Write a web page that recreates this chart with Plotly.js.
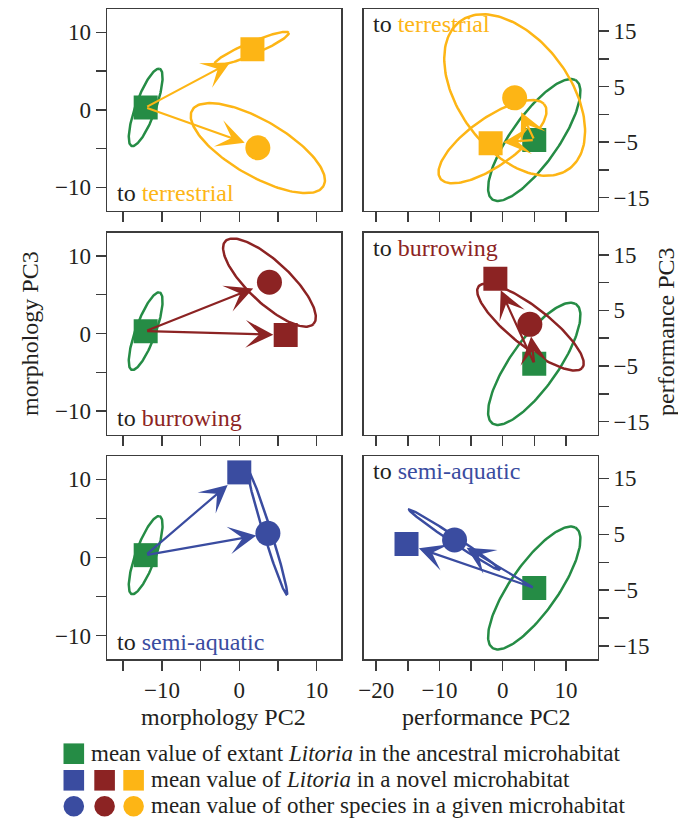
<!DOCTYPE html>
<html><head><meta charset="utf-8">
<script src="https://cdn.plot.ly/plotly-3.0.1.min.js"></script>
<style>html,body{margin:0;padding:0;background:#fff}#plot{width:678px;height:818px}</style>
</head><body><div id="plot"></div>
<script>
// ---------------- data ----------------
const habitats = ['terrestrial', 'burrowing', 'semi-aquatic'];
const habitatColors = ['#FDB515', '#8C2323', '#3A4CA0'];
const ancestralColor = '#258C45';

// morphology space (PC2, PC3)
const morphAncestralPC2 = -12.1;
const morphAncestralPC3 = 0.3;
const morphAncestralEll = [5.3, 1.3, 70];           // semi-axis a, semi-axis b, angle (deg)
const morphNovelPC2 = [1.7, 6.0, 0.0];
const morphNovelPC3 = [7.8, -0.2, 10.9];
const morphOtherPC2 = [2.4, 3.9, 3.7];
const morphOtherPC3 = [-4.9, 6.6, 3.1];
const morphNovelEllCX = [1.6, null, null];
const morphNovelEllCY = [7.9, null, null];
const morphNovelEllA = [5.2, null, null];
const morphNovelEllB = [0.8, null, null];
const morphNovelEllAng = [23, null, null];
const morphOtherEllCX = [2.4, 3.9, 3.65];
const morphOtherEllCY = [-4.95, 6.55, 3.15];
const morphOtherEllA = [9.8, 7.8, 8.3];
const morphOtherEllB = [3.6, 2.7, 0.5];
const morphOtherEllAng = [-30, -43, -72.5];
const morphArrowNovelPC2 = [-1.2, 4.4, -1.5];
const morphArrowNovelPC3 = [6.1, -0.15, 9.3];
const morphArrowOtherPC2 = [0.7, 1.8, 2.2];
const morphArrowOtherPC3 = [-4.25, 5.8, 2.8];

// performance space (PC2, PC3)
const perfAncestralPC2 = 5.0;
const perfAncestralPC3 = -4.6;
const perfAncestralEll = [12.6, 3.9, 59];
const perfNovelPC2 = [-1.9, -1.15, -15.2];
const perfNovelPC3 = [-5.2, 10.7, 3.25];
const perfOtherPC2 = [1.9, 4.3, -7.6];
const perfOtherPC3 = [3.0, 2.5, 4.0];
const perfNovelEllCX = [-1.6, null, null];
const perfNovelEllCY = [-4.9, null, null];
const perfNovelEllA = [10.6, null, null];
const perfNovelEllB = [4.1, null, null];
const perfNovelEllAng = [40, null, null];
const perfOtherEllCX = [1.9, 4.4, -7.6];
const perfOtherEllCY = [3.5, 2.0, 4.0];
const perfOtherEllA = [15.9, 11.0, 9.0];
const perfOtherEllB = [9.1, 3.3, 0.55];
const perfOtherEllAng = [-60.5, -42.4, -37];
const perfArrowNovelPC2 = [0.1, -0.3, -13.25];
const perfArrowNovelPC3 = [-5.0, 8.6, 2.5];
const perfArrowOtherPC2 = [2.95, 4.5, -5.7];
const perfArrowOtherPC3 = [0.4, 0.3, 2.6];

// axis ticks
const morphXTicks = [-15, -10, -5, 0, 5, 10];
const morphXLabels = ['', '\u221210', '', '0', '', '10'];
const morphYTicks = [-10, -5, 0, 5, 10];
const morphYLabels = ['\u221210', '', '0', '', '10'];
const perfXTicks = [-20, -15, -10, -5, 0, 5, 10];
const perfXLabels = ['\u221220', '', '\u221210', '', '0', '', '10'];
const perfYTicks = [-15, -10, -5, 0, 5, 10, 15];
const perfYLabels = ['\u221215', '', '\u22125', '', '5', '', '15'];

const legendLabels = [
  'mean value of extant <i>Litoria</i> in the ancestral microhabitat',
  'mean value of <i>Litoria</i> in a novel microhabitat',
  'mean value of other species in a given microhabitat'
];

// ---------------- drawing ----------------
const W = 678, H = 818;
const PX = v => v / W;
const PY = v => 1 - v / H;
const FONT = '"Liberation Serif"';
const TXT = '#231f20';

function ellipse(cx, cy, a, b, deg) {
  const th = deg * Math.PI / 180, xs = [], ys = [];
  for (let i = 0; i <= 160; i++) {
    const t = 2 * Math.PI * i / 160;
    xs.push(cx + a * Math.cos(t) * Math.cos(th) - b * Math.sin(t) * Math.sin(th));
    ys.push(cy + a * Math.cos(t) * Math.sin(th) + b * Math.sin(t) * Math.cos(th));
  }
  return [xs, ys];
}

const spaces = [
  {
    ancX: morphAncestralPC2, ancY: morphAncestralPC3, ancEll: morphAncestralEll,
    novX: morphNovelPC2, novY: morphNovelPC3, othX: morphOtherPC2, othY: morphOtherPC3,
    nEcx: morphNovelEllCX, nEcy: morphNovelEllCY, nEa: morphNovelEllA, nEb: morphNovelEllB, nEang: morphNovelEllAng,
    oEcx: morphOtherEllCX, oEcy: morphOtherEllCY, oEa: morphOtherEllA, oEb: morphOtherEllB, oEang: morphOtherEllAng,
    aNx: morphArrowNovelPC2, aNy: morphArrowNovelPC3, aOx: morphArrowOtherPC2, aOy: morphArrowOtherPC3,
    xr: [-17.1, 13.15], yr: [-13, 13], xt: morphXTicks, xl: morphXLabels, yt: morphYTicks, yl: morphYLabels,
    side: 'left', dom: [107 / W, 341 / W]
  },
  {
    ancX: perfAncestralPC2, ancY: perfAncestralPC3, ancEll: perfAncestralEll,
    novX: perfNovelPC2, novY: perfNovelPC3, othX: perfOtherPC2, othY: perfOtherPC3,
    nEcx: perfNovelEllCX, nEcy: perfNovelEllCY, nEa: perfNovelEllA, nEb: perfNovelEllB, nEang: perfNovelEllAng,
    oEcx: perfOtherEllCX, oEcy: perfOtherEllCY, oEa: perfOtherEllA, oEb: perfOtherEllB, oEang: perfOtherEllAng,
    aNx: perfArrowNovelPC2, aNy: perfArrowNovelPC3, aOx: perfArrowOtherPC2, aOy: perfArrowOtherPC3,
    xr: [-22, 15], yr: [-17.3, 19], xt: perfXTicks, xl: perfXLabels, yt: perfYTicks, yl: perfYLabels,
    side: 'right', dom: [363.5 / W, 597.5 / W]
  }
];
const rowsPx = [[9, 210.5], [232.5, 434.5], [456, 659]];

const traces = [];
const layout = {
  width: W, height: H, margin: {l: 0, r: 0, t: 0, b: 0},
  paper_bgcolor: '#fff', plot_bgcolor: '#fff', showlegend: false,
  font: {family: FONT, color: TXT, size: 23},
  annotations: [], shapes: []
};

for (let r = 0; r < 3; r++) {
  for (let c = 0; c < 2; c++) {
    const S = spaces[c];
    const k = r * 2 + c + 1;
    const sfx = k === 1 ? '' : String(k);
    const xa = 'x' + sfx, ya = 'y' + sfx;
    const col = habitatColors[r];
    const axCommon = {
      showgrid: false, zeroline: false, showline: true, mirror: true,
      linecolor: '#3c3c3c', linewidth: 1.5, ticks: 'outside', ticklen: 10,
      tickwidth: 1.5, tickcolor: '#3c3c3c', tickfont: {family: FONT, size: 23, color: TXT},
      fixedrange: true
    };
    layout['xaxis' + sfx] = Object.assign({}, axCommon, {
      domain: S.dom, range: S.xr, anchor: ya, tickmode: 'array', tickvals: S.xt, ticktext: S.xl,
      showticklabels: r === 2
    });
    layout['yaxis' + sfx] = Object.assign({}, axCommon, {
      domain: [1 - rowsPx[r][1] / H, 1 - rowsPx[r][0] / H], range: S.yr, anchor: xa,
      tickmode: 'array', tickvals: S.yt, ticktext: S.yl, side: S.side
    });

    // ellipses
    let e = ellipse(S.ancX, S.ancY, S.ancEll[0], S.ancEll[1], S.ancEll[2]);
    traces.push({x: e[0], y: e[1], xaxis: xa, yaxis: ya, mode: 'lines', line: {color: ancestralColor, width: 2.5}, hoverinfo: 'skip'});
    if (S.nEa[r] !== null) {
      e = ellipse(S.nEcx[r], S.nEcy[r], S.nEa[r], S.nEb[r], S.nEang[r]);
      traces.push({x: e[0], y: e[1], xaxis: xa, yaxis: ya, mode: 'lines', line: {color: col, width: 2.5}, hoverinfo: 'skip'});
    }
    if (S.oEa[r] !== null) {
      e = ellipse(S.oEcx[r], S.oEcy[r], S.oEa[r], S.oEb[r], S.oEang[r]);
      traces.push({x: e[0], y: e[1], xaxis: xa, yaxis: ya, mode: 'lines', line: {color: col, width: 2.5}, hoverinfo: 'skip'});
    }
    // means
    traces.push({x: [S.ancX], y: [S.ancY], xaxis: xa, yaxis: ya, mode: 'markers',
      marker: {symbol: 'square', size: 24, color: ancestralColor, line: {width: 0}}});
    traces.push({x: [S.novX[r]], y: [S.novY[r]], xaxis: xa, yaxis: ya, mode: 'markers',
      marker: {symbol: 'square', size: 24, color: col, line: {width: 0}}});
    traces.push({x: [S.othX[r]], y: [S.othY[r]], xaxis: xa, yaxis: ya, mode: 'markers',
      marker: {symbol: 'circle', size: 25, color: col, line: {width: 0}}});

    // arrows
    [[S.aNx[r], S.aNy[r]], [S.aOx[r], S.aOy[r]]].forEach(tip => {
      layout.annotations.push({
        xref: xa, yref: ya, axref: xa, ayref: ya, x: tip[0], y: tip[1], ax: S.ancX, ay: S.ancY,
        text: '', showarrow: true, arrowhead: 3, arrowsize: 2.1, arrowwidth: 2.2, arrowcolor: col
      });
    });

    // panel label
    const lab = 'to <span style="color:' + col + '">' + habitats[r] + '</span>';
    if (c === 0) {
      layout.annotations.push({xref: xa + ' domain', yref: ya + ' domain', x: 0.034, y: 0,
        xanchor: 'left', yanchor: 'bottom', yshift: 2, text: lab, showarrow: false,
        font: {family: FONT, size: 24, color: TXT}});
    } else {
      layout.annotations.push({xref: xa + ' domain', yref: ya + ' domain', x: 0.034, y: 1,
        xanchor: 'left', yanchor: 'top', yshift: 0, text: lab, showarrow: false,
        font: {family: FONT, size: 24, color: TXT}});
    }
  }
}

// axis titles
const titleFont = {family: FONT, size: 24, color: TXT};
layout.annotations.push(
  {xref: 'paper', yref: 'paper', x: PX(223.5), y: PY(717), xanchor: 'center', yanchor: 'middle', text: 'morphology PC2', showarrow: false, font: titleFont},
  {xref: 'paper', yref: 'paper', x: PX(486.5), y: PY(717), xanchor: 'center', yanchor: 'middle', text: 'performance PC2', showarrow: false, font: titleFont},
  {xref: 'paper', yref: 'paper', x: PX(30), y: PY(334), xanchor: 'center', yanchor: 'middle', textangle: -90, text: 'morphology PC3', showarrow: false, font: titleFont},
  {xref: 'paper', yref: 'paper', x: PX(666), y: PY(332), xanchor: 'center', yanchor: 'middle', textangle: -90, text: 'performance PC3', showarrow: false, font: titleFont}
);

// legend
const legSymRowY = [753.7, 780.3, 806.3];
const legTextRowY = [753.7, 779.6, 805.2];
const legTextX = [90, 150, 150];
const legSymX = [63.5, 94.3, 123.3];
const half = 10.3;
layout.shapes.push({type: 'rect', xref: 'paper', yref: 'paper', x0: PX(legSymX[0]), x1: PX(legSymX[0] + 2 * half),
  y0: PY(legSymRowY[0] + half), y1: PY(legSymRowY[0] - half), fillcolor: ancestralColor, line: {width: 0}});
for (let i = 0; i < 3; i++) {
  const col = habitatColors[2 - i];
  layout.shapes.push({type: 'rect', xref: 'paper', yref: 'paper', x0: PX(legSymX[i]), x1: PX(legSymX[i] + 2 * half),
    y0: PY(legSymRowY[1] + half), y1: PY(legSymRowY[1] - half), fillcolor: col, line: {width: 0}});
  layout.shapes.push({type: 'circle', xref: 'paper', yref: 'paper', x0: PX(legSymX[i]), x1: PX(legSymX[i] + 2 * half),
    y0: PY(legSymRowY[2] + half), y1: PY(legSymRowY[2] - half), fillcolor: col, line: {width: 0}});
}
legendLabels.forEach((t, i) => {
  layout.annotations.push({xref: 'paper', yref: 'paper', x: PX(legTextX[i]), y: PY(legTextRowY[i]),
    xanchor: 'left', yanchor: 'middle', borderpad: 0, text: t, showarrow: false,
    font: {family: FONT, size: 23, color: TXT}});
});

Plotly.newPlot('plot', traces, layout, {displayModeBar: false, staticPlot: true});
</script>
</body></html>
